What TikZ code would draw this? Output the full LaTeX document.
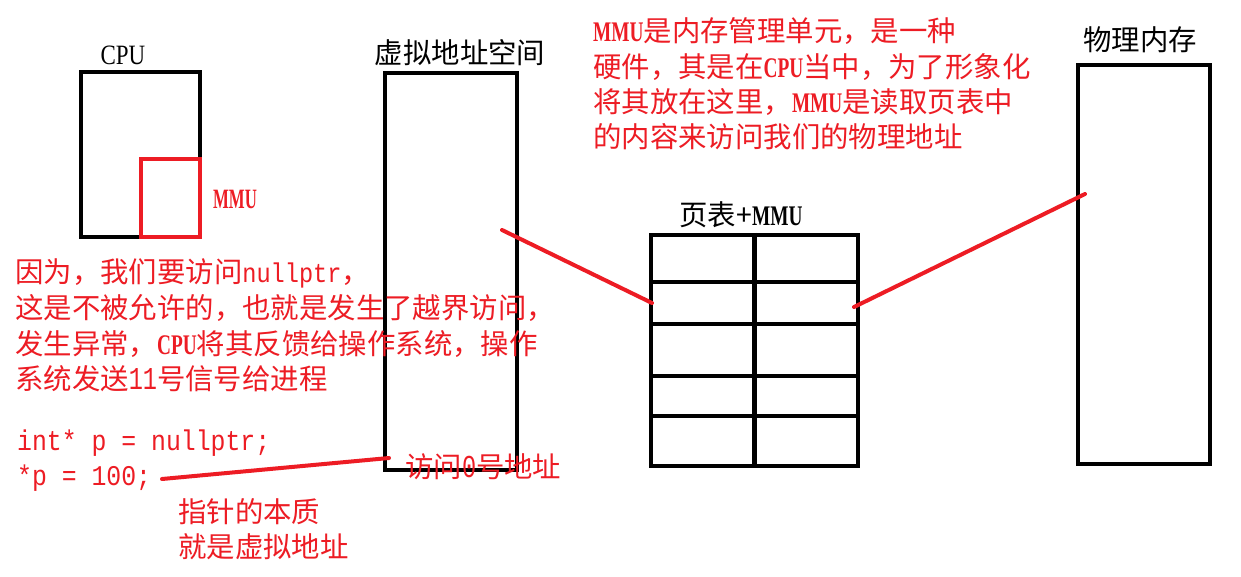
\documentclass[tikz,border=0pt]{standalone}
\usepackage{fontspec}
\usepackage{graphicx}
\newfontfamily\cjk{Noto Sans CJK SC}
\newfontfamily\serf{Liberation Serif}
\newfontfamily\mono{Liberation Mono}
\definecolor{pred}{RGB}{237,28,36}
\newcommand\latw[1]{\scalebox{0.68}[1]{\serf\bfseries #1}}
\newcommand\codef[1]{\scalebox{1}[1.15]{\mono\fontsize{23.6}{23.6}\selectfont #1}}
\newcommand\digf[1]{\scalebox{1}[1.35]{\mono\fontsize{23.6}{23.6}\selectfont #1}}
\tikzset{
  box/.style={draw=black, line width=4pt, inner sep=0pt, rectangle},
  tline/.style={draw=black, line width=4pt},
  redline/.style={draw=pred, line width=4pt, line cap=round},
  rt/.style={text=pred, font={\cjk\fontsize{28.4}{28.4}\selectfont}, inner sep=0pt, anchor=base west},
  bt/.style={text=black, font={\cjk\fontsize{28.4}{28.4}\selectfont}, inner sep=0pt},
  ct/.style={text=pred, font={\mono\fontsize{24.8}{24.8}\selectfont}, inner sep=0pt, anchor=base west}
}
\begin{document}
\begin{tikzpicture}[x=1pt,y=-1pt]
\useasboundingbox (0,0) rectangle (1241,577);
\fill[white] (0,0) rectangle (1241,577);

% boxes
\node[box, minimum width=119pt, minimum height=165pt] (cpu) at (140.5,154.5) {};
\node[box, draw=pred, minimum width=59pt, minimum height=78pt] (mmu) at (170.5,198) {};
\node[box, minimum width=132pt, minimum height=397pt] (virt) at (451,271.5) {};
\node[box, minimum width=207pt, minimum height=231pt] (ptab) at (754.5,350.5) {};
\node[box, minimum width=132pt, minimum height=399pt] (phys) at (1144,264.5) {};

% page table grid
\draw[tline, line width=5pt] (ptab.north) -- (ptab.south);
\draw[tline] (ptab.west |- 0,282) -- (ptab.east |- 0,282);
\draw[tline] (ptab.west |- 0,324) -- (ptab.east |- 0,324);
\draw[tline] (ptab.west |- 0,376) -- (ptab.east |- 0,376);
\draw[tline] (ptab.west |- 0,416) -- (ptab.east |- 0,416);

% titles
\node[bt] (tcpu) at (123,55) {\scalebox{0.82}[1]{\serf\fontsize{28}{28}\selectfont CPU}};
\node[bt] (tvirt) at (460,53) {虚拟地址空间};
\node[bt] (tphys) at (1140,40) {物理内存};
\node[bt] (tpt) at (741,215) {页表+\latw{MMU}};
\node[bt, text=pred] (tmmu) at (235,199) {\scalebox{0.6}[1]{\serf\bfseries\fontsize{28}{28}\selectfont MMU}};

% top right paragraph
\node[rt] (m1) at (593,41.5) {\latw{MMU}是内存管理单元，是一种};
\node[rt] (m2) at (593,77.5) {硬件，其是在\latw{CPU}当中，为了形象化};
\node[rt] (m3) at (593,112.5) {将其放在这里，\latw{MMU}是读取页表中};
\node[rt] (m4) at (593,147.5) {的内容来访问我们的物理地址};

% left paragraph
\node[rt] (n1) at (15,282.5) {因为，我们要访问\codef{nullptr}，};
\node[rt] (n2) at (15,318.5) {这是不被允许的，也就是发生了越界访问，};
\node[rt] (n3) at (15,354.5) {发生异常，\latw{CPU}将其反馈给操作系统，操作};
\node[rt] (n4) at (15,389.5) {系统发送\digf{11}号信号给进程};

% code
\node[ct] (code1) at (17,450) {\scalebox{1}[1.15]{int* p = nullptr;}};
\node[ct] (code2) at (17,485) {\scalebox{1}[1.15]{*p = 100;}};

% other labels
\node[rt] (acc) at (405,477.5) {访问\digf{0}号地址};
\node[rt] (z1) at (178,522.5) {指针的本质};
\node[rt] (z2) at (178,557.5) {就是虚拟地址};

% red connectors
\coordinate (a1) at (502,230);
\coordinate (a2) at (652,303);
\coordinate (b1) at (854,307);
\coordinate (b2) at (1085,194);
\coordinate (p1) at (162,479);
\coordinate (p2) at (389,458);
\draw[redline] (a1) -- (a2);
\draw[redline] (b1) -- (b2);
\draw[redline] (p1) -- (p2);
\end{tikzpicture}
\end{document}
